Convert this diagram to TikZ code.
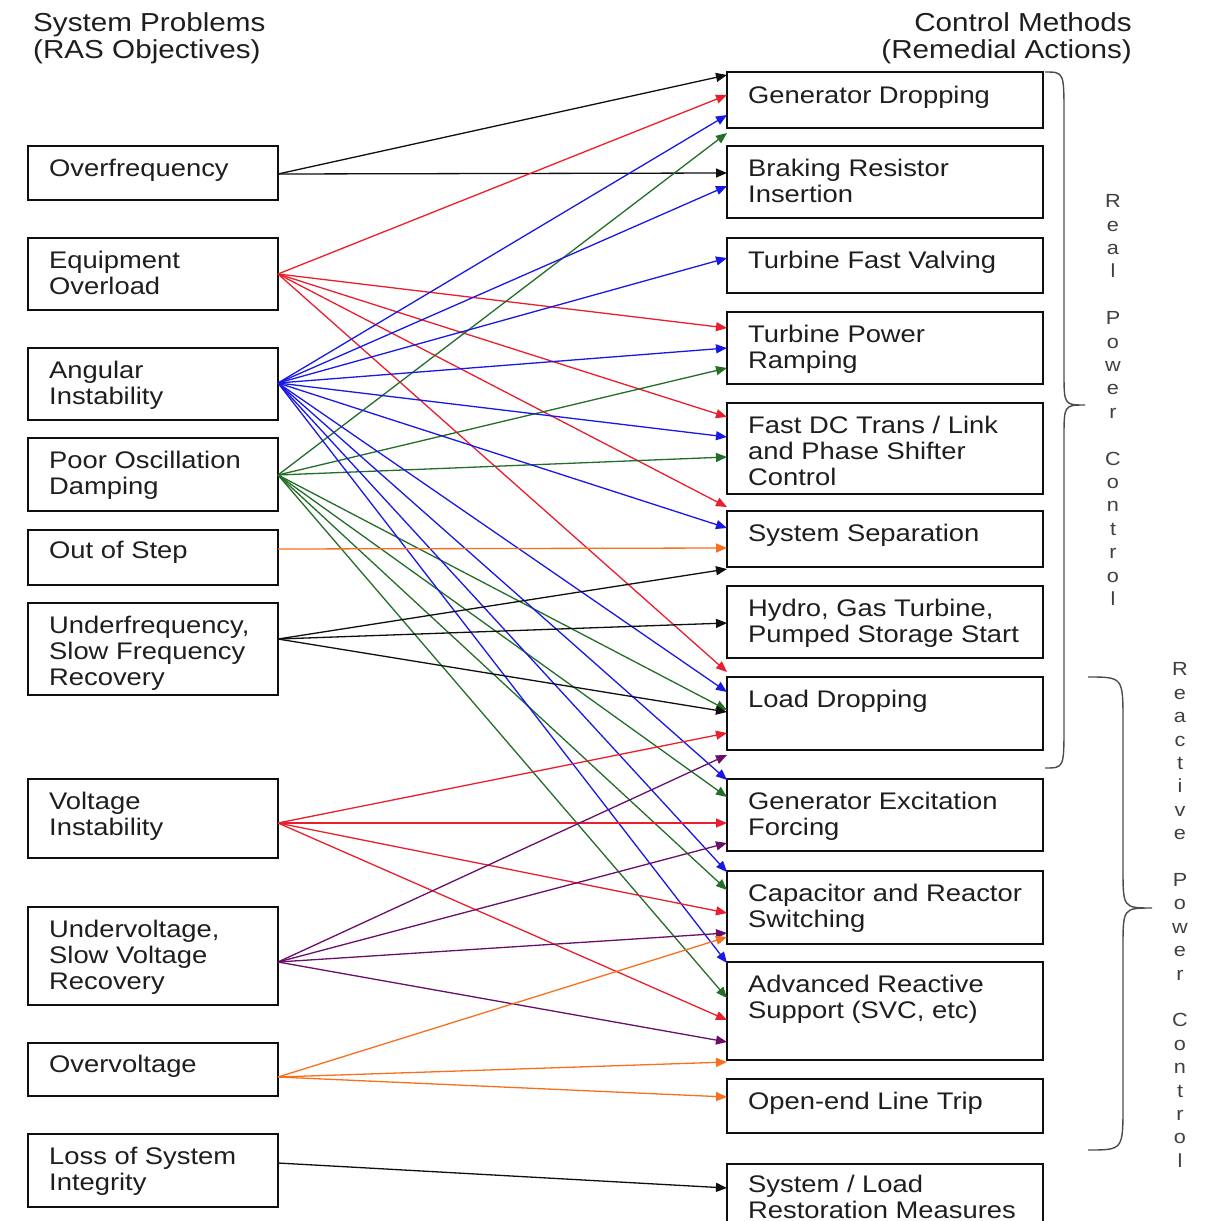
\documentclass[tikz,border=0pt]{standalone}
\usepackage{fontspec}
\setmainfont{Liberation Sans}[FakeStretch=1.14]
\usetikzlibrary{arrows.meta,calc}

\definecolor{cred}{RGB}{235,30,45}
\definecolor{cblue}{RGB}{25,25,230}
\definecolor{cgreen}{RGB}{35,110,40}
\definecolor{corange}{RGB}{248,112,30}
\definecolor{cpurple}{RGB}{105,15,105}
\definecolor{cblack}{RGB}{15,15,15}
\definecolor{ink}{RGB}{30,30,30}

\tikzset{
  lbox/.style={draw=cblack, line width=1.8pt, anchor=north west, inner sep=0pt, outer sep=0pt, minimum width=250pt},
  rbox/.style={draw=cblack, line width=1.8pt, anchor=north west, inner sep=0pt, outer sep=0pt, minimum width=316pt},
  lbl/.style={anchor=north west, inner sep=0pt, align=left, text=ink, font=\fontsize{24}{26}\selectfont},
  head/.style={inner sep=0pt, text=ink, font=\fontsize{26}{27}\selectfont},
  vert/.style={inner sep=0pt, align=center, text=ink!85, font=\fontsize{19}{23.4}\selectfont},
  conn/.style={line width=1.3pt, -{Triangle[length=11pt,width=9pt]}},
  brace/.style={draw=black!70, line width=1.4pt}
}

\begin{document}
\begin{tikzpicture}[x=1pt,y=-1pt]
\useasboundingbox (0,0) rectangle (1205,1221);
\clip (0,0) rectangle (1205,1221);
\fill[white] (0,0) rectangle (1205,1221);

% column headings
\node[head, anchor=north west, align=left] (hl) at (33,12) {\strut System Problems\\(RAS Objectives)};
\node[head, anchor=north east, align=right] (hr) at (1132,12) {\strut Control Methods\\(Remedial Actions)};

% system problems
\node[lbox, minimum height=54] (L1) at (28,146) {};
\node[lbox, minimum height=72] (L2) at (28,238) {};
\node[lbox, minimum height=72] (L3) at (28,348) {};
\node[lbox, minimum height=73] (L4) at (28,438) {};
\node[lbox, minimum height=55] (L5) at (28,530) {};
\node[lbox, minimum height=92] (L6) at (28,603) {};
\node[lbox, minimum height=79] (L7) at (28,779) {};
\node[lbox, minimum height=98] (L8) at (28,907) {};
\node[lbox, minimum height=53] (L9) at (28,1043) {};
\node[lbox, minimum height=73] (L10) at (28,1134) {};

\node[lbl] at ($(L1.north west)+(21,11.8)$) {\strut Overfrequency};
\node[lbl] at ($(L2.north west)+(21,11.8)$) {\strut Equipment\\Overload};
\node[lbl] at ($(L3.north west)+(21,11.8)$) {\strut Angular\\Instability};
\node[lbl] at ($(L4.north west)+(21,11.8)$) {\strut Poor Oscillation\\Damping};
\node[lbl] at ($(L5.north west)+(21,10.0)$) {\strut Out of Step};
\node[lbl] at ($(L6.north west)+(21,11.8)$) {\strut Underfrequency,\\Slow Frequency\\Recovery};
\node[lbl] at ($(L7.north west)+(21,11.8)$) {\strut Voltage\\Instability};
\node[lbl] at ($(L8.north west)+(21,11.8)$) {\strut Undervoltage,\\Slow Voltage\\Recovery};
\node[lbl] at ($(L9.north west)+(21,11.0)$) {\strut Overvoltage};
\node[lbl] at ($(L10.north west)+(21,11.8)$) {\strut Loss of System\\Integrity};

% remedial actions
\node[rbox, minimum height=56] (R1) at (727,72) {};
\node[rbox, minimum height=72] (R2) at (727,146) {};
\node[rbox, minimum height=55] (R3) at (727,238) {};
\node[rbox, minimum height=72] (R4) at (727,312) {};
\node[rbox, minimum height=91] (R5) at (727,403) {};
\node[rbox, minimum height=56] (R6) at (727,511) {};
\node[rbox, minimum height=72] (R7) at (727,586) {};
\node[rbox, minimum height=73] (R8) at (727,677) {};
\node[rbox, minimum height=72] (R9) at (727,779) {};
\node[rbox, minimum height=73] (R10) at (727,871) {};
\node[rbox, minimum height=98] (R11) at (727,962) {};
\node[rbox, minimum height=54] (R12) at (727,1079) {};
\node[rbox, minimum height=80] (R13) at (727,1164) {};

\node[lbl] at ($(R1.north west)+(21,12.8)$) {\strut Generator Dropping};
\node[lbl] at ($(R2.north west)+(21,11.8)$) {\strut Braking Resistor\\Insertion};
\node[lbl] at ($(R3.north west)+(21,11.8)$) {\strut Turbine Fast Valving};
\node[lbl] at ($(R4.north west)+(21,11.8)$) {\strut Turbine Power\\Ramping};
\node[lbl] at ($(R5.north west)+(21,11.8)$) {\strut Fast DC Trans / Link\\and Phase Shifter\\Control};
\node[lbl] at ($(R6.north west)+(21,11.8)$) {\strut System Separation};
\node[lbl] at ($(R7.north west)+(21,11.8)$) {\strut Hydro, Gas Turbine,\\Pumped Storage Start};
\node[lbl] at ($(R8.north west)+(21,11.8)$) {\strut Load Dropping};
\node[lbl] at ($(R9.north west)+(21,11.8)$) {\strut Generator Excitation\\Forcing};
\node[lbl] at ($(R10.north west)+(21,11.8)$) {\strut Capacitor and Reactor\\Switching};
\node[lbl] at ($(R11.north west)+(21,11.8)$) {\strut Advanced Reactive\\Support (SVC, etc)};
\node[lbl] at ($(R12.north west)+(21,11.8)$) {\strut Open-end Line Trip};
\node[lbl] at ($(R13.north west)+(21,10.5)$) {\strut System / Load\\Restoration Measures};

% connector start points on the problem boxes
\coordinate (s1) at ($(L1.north east)+(0,28)$);
\coordinate (s2) at ($(L2.north east)+(0,36)$);
\coordinate (s3) at ($(L3.north east)+(0,35)$);
\coordinate (s4) at ($(L4.north east)+(0,37)$);
\coordinate (s5) at ($(L5.north east)+(0,19)$);
\coordinate (s6) at ($(L6.north east)+(0,36)$);
\coordinate (s7) at ($(L7.north east)+(0,44)$);
\coordinate (s8) at ($(L8.north east)+(0,55)$);
\coordinate (s9) at ($(L9.north east)+(0,34)$);
\coordinate (s10) at ($(L10.north east)+(0,29)$);

% problem -> action links (colour / source / target / offset below target top)
\foreach \c/\s/\t/\o in {
  cblack/s1/R1/3, cblack/s1/R2/27,
  cred/s2/R1/23, cred/s2/R4/16, cred/s2/R5/14, cred/s2/R6/-4, cred/s2/R8/-5,
  cgreen/s4/R1/61, cgreen/s4/R4/56, cgreen/s4/R5/54, cgreen/s4/R8/33,
  cgreen/s4/R9/18, cgreen/s4/R10/19, cgreen/s4/R11/36,
  cblue/s3/R1/43, cblue/s3/R2/40, cblue/s3/R3/20, cblue/s3/R4/36, cblue/s3/R5/34,
  cblue/s3/R6/17, cblue/s3/R8/15, cblue/s3/R9/1, cblue/s3/R10/1, cblue/s3/R11/1,
  corange/s5/R6/37,
  cblack/s6/R6/58, cblack/s6/R7/37, cblack/s6/R8/35,
  cred/s7/R8/56, cred/s7/R9/44, cred/s7/R10/42, cred/s7/R11/58,
  cpurple/s8/R8/78, cpurple/s8/R9/64, cpurple/s8/R10/62, cpurple/s8/R11/80,
  corange/s9/R10/66, corange/s9/R11/100, corange/s9/R12/18,
  cblack/s10/R13/24}
  \draw[conn, \c] (\s) -- ($(\t.north west)+(0,\o)$);

% grouping braces
\coordinate (b1a) at ($(R1.north east)+(2,0)$);
\coordinate (b1b) at ($(R8.south east)+(2,18)$);
\draw[brace] (b1a) .. controls (1064,72) .. (1064,115) -- (1064,372)
  .. controls (1064,405) .. (1085,405) .. controls (1064,405) .. (1064,438)
  -- (1064,725) .. controls (1064,768) .. (b1b);
\coordinate (b2a) at (1088,677);
\coordinate (b2b) at (1088,1150);
\draw[brace] (b2a) .. controls (1123,677) .. (1123,722) -- (1123,868)
  .. controls (1123,908) .. (1152,908) .. controls (1123,908) .. (1123,948)
  -- (1123,1105) .. controls (1123,1150) .. (b2b);

\node[vert] (rpc) at (1113,400) {R\\e\\a\\l\\~\\P\\o\\w\\e\\r\\~\\C\\o\\n\\t\\r\\o\\l};
\node[vert] (qpc) at (1180,915) {R\\e\\a\\c\\t\\i\\v\\e\\~\\P\\o\\w\\e\\r\\~\\C\\o\\n\\t\\r\\o\\l};
\end{tikzpicture}
\end{document}
